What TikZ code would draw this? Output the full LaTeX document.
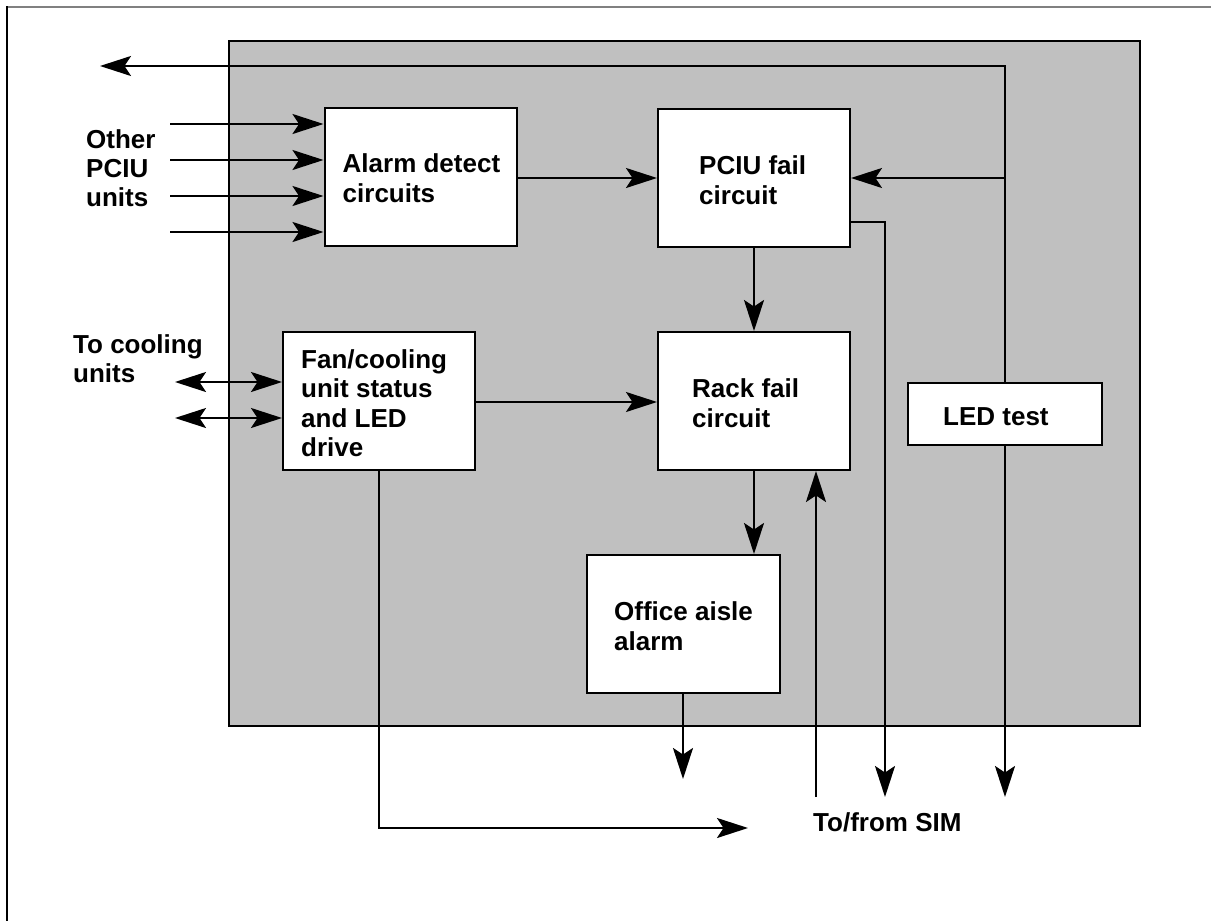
\documentclass[tikz,border=0pt]{standalone}
\usepackage{fontspec}
\setmainfont{Liberation Sans}
\usetikzlibrary{arrows.meta}
\begin{document}
\begin{tikzpicture}[x=1pt,y=-1pt,
  panel/.style={draw=black, line width=2.5pt, fill=panelgrey},
  blk/.style={draw=black, line width=2pt, fill=white, inner sep=0pt},
  lbl/.style={font=\fontsize{26}{29.5}\selectfont\bfseries, align=left, inner sep=0pt, anchor=west},
  ext/.style={font=\fontsize{26}{29}\selectfont\bfseries, align=left, inner sep=0pt, anchor=base west},
  wire/.style={draw=black, line width=2pt},
  tip/.tip={Stealth[length=31pt,width=20pt,inset=6.5pt]},
  sig/.style={wire, -tip},
  bisig/.style={wire, tip-tip}]
\definecolor{panelgrey}{RGB}{192,192,192}
\definecolor{framegrey}{RGB}{128,128,128}
\useasboundingbox (0,0) rectangle (1211,921);

% page frame
\draw[framegrey, line width=2pt] (7,6.5) -- (1211,6.5);
\draw[black, line width=2pt] (7,6) -- (7,921);

% shaded unit outline
\node[panel, minimum width=911, minimum height=685, inner sep=0pt] (unit) at (684.5,383.5) {};

% function blocks
\node[blk, minimum width=192, minimum height=138] (alarm) at (420.5,177) {};
\node[blk, minimum width=192, minimum height=138] (pciu)  at (754,178) {};
\node[blk, minimum width=192, minimum height=138] (rack)  at (754,401) {};
\node[blk, minimum width=192, minimum height=138] (fan)   at (379,401) {};
\node[blk, minimum width=193, minimum height=138] (office) at (683.5,624) {};
\node[blk, minimum width=194, minimum height=62]  (led)   at (1005,414) {};

% block captions
\node[lbl] (alarmT) at ([xshift=19pt,yshift=-1pt]alarm.west) {Alarm detect\\circuits};
\node[lbl] (pciuT) at ([xshift=42pt,yshift=-2pt]pciu.west) {PCIU fail\\circuit};
\node[lbl] (rackT) at ([xshift=35pt,yshift=-2pt]rack.west) {Rack fail\\circuit};
\node[lbl] (fanT) at ([xshift=19pt,yshift=-2pt]fan.west) {Fan/cooling\\unit status\\and LED\\drive};
\node[lbl] (officeT) at ([xshift=28pt,yshift=-2pt]office.west) {Office aisle\\alarm};
\node[lbl] (ledT) at ([xshift=36pt,yshift=-3pt]led.west) {LED test};

% outside labels (anchored on the baseline of their last line)
\node[ext] (otherT) at (86,206) {Other\\PCIU\\units};
\node[ext] (coolT) at (73,382) {To cooling\\units};
\node[ext] (simT) at (813,831) {To/from SIM};

% free ends of external connectors
\coordinate (in1) at (170,124);
\coordinate (in2) at (170,160);
\coordinate (in3) at (170,196);
\coordinate (in4) at (170,232);
\coordinate (cool1) at (175,382);
\coordinate (cool2) at (175,418);
\coordinate (topEnd) at (100,66);
\coordinate (ledTop) at (1005,66);
\coordinate (ledTap) at (1005,178);
\coordinate (ledOut) at (1005,797);
\coordinate (pciuOut) at (885,797);
\coordinate (simIn) at (816,797);
\coordinate (officeOut) at (683,779);
\coordinate (fanCorner) at (379,828);
\coordinate (fanOut) at (748,828);

% inputs from other PCIU units
\draw[sig] (in1) -- (in1 -| alarm.west);
\draw[sig] (in2) -- (in2 -| alarm.west);
\draw[sig] (in3) -- (in3 -| alarm.west);
\draw[sig] (in4) -- (in4 -| alarm.west);

% cooling unit links
\draw[bisig] (cool1) -- (cool1 -| fan.west);
\draw[bisig] (cool2) -- (cool2 -| fan.west);

% internal signal flow
\draw[sig] (alarm.east |- 0,178) -- (pciu.west);
\draw[sig] (pciu.south) -- (rack.north);
\draw[sig] (fan.east |- 0,402) -- (rack.west |- 0,402);
\draw[sig] (rack.south) -- (office.north -| rack.south);

% LED test distribution
\draw[sig] (led.north) -- (ledTop) -- (topEnd);
\draw[sig] (ledTap) -- (pciu.east |- ledTap);
\draw[sig] (led.south) -- (ledOut);

% connections to/from SIM
\draw[sig] (pciu.east |- 0,222) -- (885,222) -- (pciuOut);
\draw[sig] (simIn) -- (simIn |- rack.south);
\draw[sig] (office.south -| officeOut) -- (officeOut);
\draw[sig] (fan.south) -- (fanCorner) -- (fanOut);
\end{tikzpicture}
\end{document}
